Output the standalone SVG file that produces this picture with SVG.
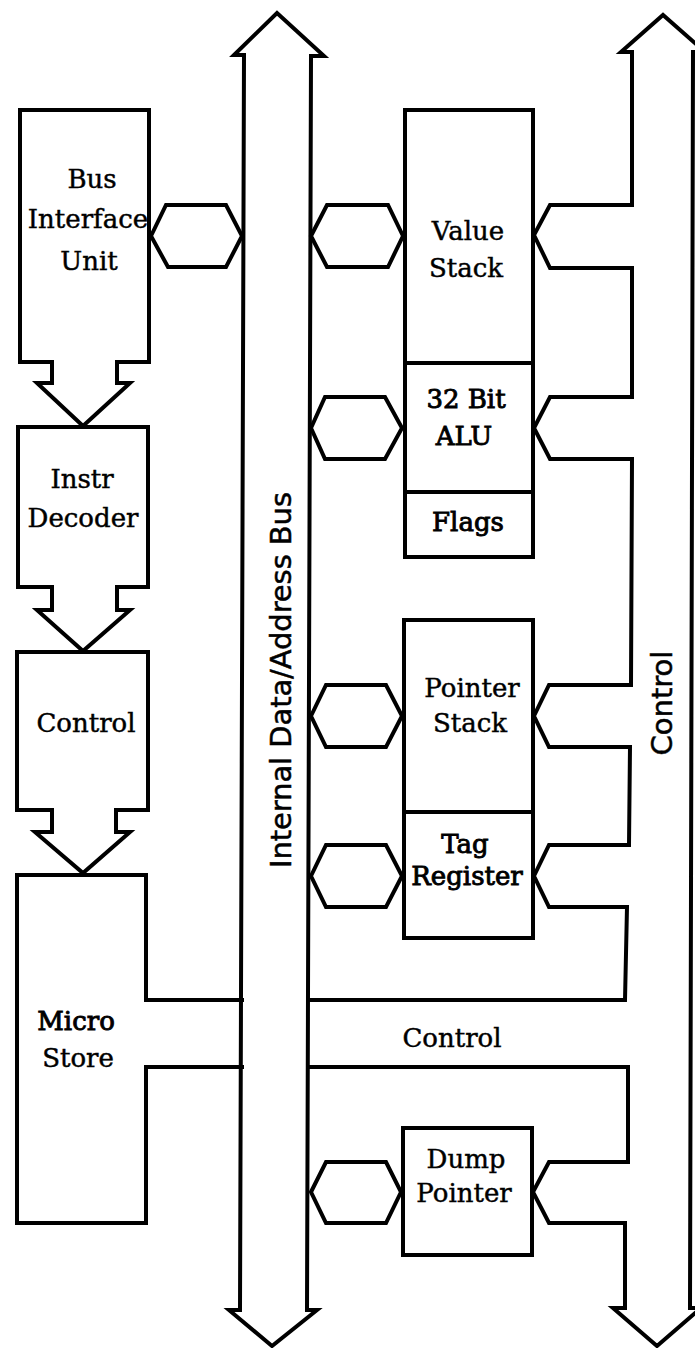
<svg xmlns="http://www.w3.org/2000/svg" width="695" height="1348" viewBox="0 0 695 1348">
<style>
.ln{fill:none;stroke:#000;stroke-width:4;stroke-linejoin:miter;stroke-linecap:square}
.bx{fill:#fff;stroke:#000;stroke-width:4;stroke-linejoin:miter}
.lb{font-family:"DejaVu Serif","Liberation Serif",serif;font-size:26px;fill:#000;text-anchor:middle;stroke:#000;stroke-width:0.45}
.hv{stroke:#000;stroke-width:0.9}
.bus{font-family:"DejaVu Sans","Liberation Sans",sans-serif;font-size:29px;fill:#000;text-anchor:middle;stroke:#000;stroke-width:0.5}
</style>
<rect width="695" height="1348" fill="#fff"/>

<g id="connectors">
  <!-- Internal data/address bus -->
  <path id="internal-bus" class="bx" d="M244,55 L234,55 L277,13 L324,56 L311,56 L307,1310 L317,1310 L272,1346 L229,1310 L240,1310 Z"/>
  <!-- Control bus with channels -->
  <path id="control-bus" class="ln" d="M632,55 L632,205 L550,205 L534,235 L550,268 L632,268 L632,397 L550,397 L534,428 L550,459 L632,459 L631,685 L549,685 L534,716 L549,747 L630,747 L629,845 L549,845 L534,876 L549,907 L627,907 L625,1000 L309,1000 M309,1067 L628,1067 L628,1162 L549,1162 L533,1192 L549,1223 L625,1223 L625,1308 L613,1308 L657,1346 L701,1308 L690,1308 L693,52 L705,52 L663,15 L621,52 L632,52 L632,55"/>
  <!-- Micro store control channel -->
  <path class="ln" d="M146,1000 H242 M146,1067 H242"/>
  <!-- Bus couplers (hexagons) -->
  <path class="bx" d="M151,236 L166,205 L226,205 L242,236 L226,267 L168,267 Z"/>
  <path class="bx" d="M311,236 L327,205 L388,205 L403,236 L388,267 L327,267 Z"/>
  <path class="bx" d="M311,428 L325,397 L385,397 L402,428 L385,459 L325,459 Z"/>
  <path class="bx" d="M311,716 L326,685 L386,685 L402,716 L386,747 L326,747 Z"/>
  <path class="bx" d="M311,876 L326,845 L386,845 L402,876 L386,907 L326,907 Z"/>
  <path class="bx" d="M311,1192 L326,1162 L386,1162 L401,1192 L386,1223 L326,1223 Z"/>
  <text class="bus" transform="translate(291,680) rotate(-90)" textLength="376" lengthAdjust="spacing">Internal Data/Address Bus</text>
  <text class="bus" transform="translate(672,703) rotate(-90)">Control</text>
  <text class="lb" x="452" y="1047">Control</text>
</g>

<g id="bus-interface-unit">
  <path class="bx" d="M20,110 H149 V362 H117 V383 H130 L83,426 L37,383 H52 V362 H20 Z"/>
  <text class="lb" x="92" y="188">Bus</text>
  <text class="lb" x="88" y="228">Interface</text>
  <text class="lb" x="89" y="270">Unit</text>
</g>

<g id="instr-decoder">
  <path class="bx" d="M18,427 H148 V587 H117 V610 H130 L83,651 L37,610 H52 V587 H18 Z"/>
  <text class="lb" x="82" y="488">Instr</text>
  <text class="lb" x="83" y="527">Decoder</text>
</g>

<g id="control">
  <path class="bx" d="M17,652 H148 V810 H116 V832 H130 L83,873 L35,832 H52 V810 H17 Z"/>
  <text class="lb" x="86" y="732">Control</text>
</g>

<g id="micro-store">
  <path class="ln" d="M146,1000 V875 H17 V1223 H146 V1067"/>
  <text class="lb hv" x="76" y="1030">Micro</text>
  <text class="lb" x="78" y="1067">Store</text>
</g>

<g id="value-stack">
  <rect class="bx" x="405" y="110" width="128" height="253"/>
  <text class="lb" x="468" y="240">Value</text>
  <text class="lb" x="466" y="277">Stack</text>
</g>

<g id="alu">
  <rect class="bx" x="405" y="363" width="128" height="129"/>
  <text class="lb hv" x="466" y="408">32 Bit</text>
  <text class="lb hv" x="464" y="445">ALU</text>
</g>

<g id="flags">
  <rect class="bx" x="405" y="492" width="128" height="65"/>
  <text class="lb hv" x="468" y="531">Flags</text>
</g>

<g id="pointer-stack">
  <rect class="bx" x="404" y="620" width="129" height="192"/>
  <text class="lb" x="472" y="697">Pointer</text>
  <text class="lb" x="470" y="732">Stack</text>
</g>

<g id="tag-register">
  <rect class="bx" x="404" y="812" width="129" height="126"/>
  <text class="lb hv" x="465" y="853">Tag</text>
  <text class="lb hv" x="467" y="885">Register</text>
</g>

<g id="dump-pointer">
  <rect class="bx" x="403" y="1128" width="129" height="127"/>
  <text class="lb" x="466" y="1168">Dump</text>
  <text class="lb" x="464" y="1202">Pointer</text>
</g>
</svg>
